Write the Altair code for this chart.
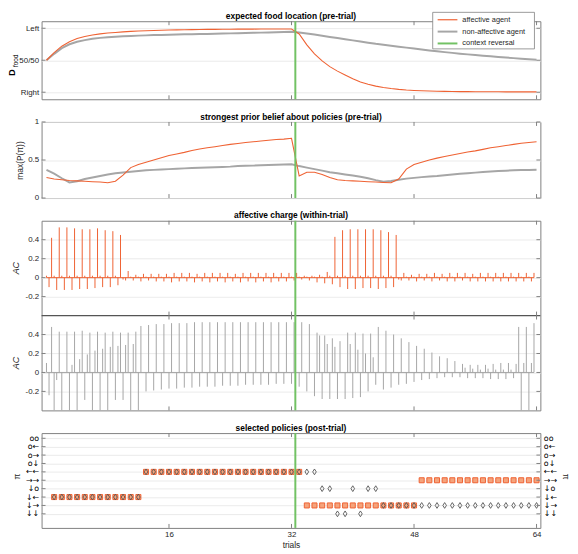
import altair as alt
import pandas as pd

# ---------------- values ----------------
pre_trial_index = list(range(65))

food_affective = [
    0.50, 0.62, 0.72, 0.79, 0.84, 0.87, 0.895, 0.912, 0.925, 0.935,
    0.944, 0.951, 0.957, 0.962, 0.966, 0.969, 0.972, 0.975, 0.977, 0.979,
    0.981, 0.982, 0.983, 0.984, 0.985, 0.986, 0.987, 0.987, 0.988, 0.988,
    0.989, 0.989, 0.989, 0.91, 0.74, 0.60, 0.49, 0.40, 0.33, 0.27,
    0.21, 0.16, 0.125, 0.095, 0.075, 0.058, 0.045, 0.035, 0.028, 0.022,
    0.018, 0.015, 0.013, 0.011, 0.010, 0.009, 0.008, 0.008, 0.007, 0.007,
    0.006, 0.006, 0.006, 0.005, 0.005]
food_nonaffective = [
    0.50, 0.60, 0.69, 0.75, 0.79, 0.815, 0.835, 0.85, 0.86, 0.868,
    0.875, 0.88, 0.885, 0.889, 0.893, 0.896, 0.899, 0.902, 0.905, 0.907,
    0.91, 0.912, 0.914, 0.917, 0.92, 0.923, 0.926, 0.929, 0.932, 0.935,
    0.938, 0.941, 0.945, 0.935, 0.918, 0.901, 0.883, 0.865, 0.847, 0.829,
    0.811, 0.793, 0.775, 0.757, 0.742, 0.727, 0.712, 0.697, 0.682, 0.668,
    0.654, 0.64, 0.627, 0.615, 0.603, 0.592, 0.581, 0.571, 0.561, 0.551,
    0.542, 0.533, 0.524, 0.515, 0.506]

prior_affective = [
    0.27, 0.25, 0.24, 0.23, 0.225, 0.22, 0.215, 0.21, 0.20, 0.22,
    0.30, 0.40, 0.44, 0.47, 0.50, 0.53, 0.56, 0.58, 0.60, 0.625,
    0.645, 0.66, 0.675, 0.69, 0.705, 0.718, 0.73, 0.74, 0.75, 0.76,
    0.77, 0.775, 0.785, 0.29, 0.34, 0.34, 0.31, 0.27, 0.24, 0.23,
    0.225, 0.22, 0.215, 0.21, 0.205, 0.20, 0.25, 0.38, 0.44, 0.47,
    0.50, 0.525, 0.545, 0.565, 0.585, 0.605, 0.62, 0.64, 0.66, 0.675,
    0.69, 0.705, 0.72, 0.73, 0.74]
prior_nonaffective = [
    0.37, 0.32, 0.26, 0.205, 0.22, 0.25, 0.27, 0.29, 0.31, 0.325,
    0.335, 0.345, 0.355, 0.365, 0.37, 0.375, 0.38, 0.385, 0.39, 0.394,
    0.398, 0.402, 0.405, 0.409, 0.413, 0.42, 0.423, 0.426, 0.43, 0.433,
    0.437, 0.44, 0.445, 0.42, 0.40, 0.38, 0.36, 0.34, 0.325, 0.31,
    0.295, 0.28, 0.26, 0.235, 0.215, 0.225, 0.24, 0.255, 0.265, 0.275,
    0.283, 0.29, 0.30, 0.31, 0.318, 0.326, 0.334, 0.341, 0.348, 0.354,
    0.36, 0.364, 0.368, 0.37, 0.372]

trial_numbers = list(range(1, 65))
# affective charge at the three within-trial steps of every trial
ac_aff_step1 = [
    0.02, 0.02, 0.02, 0.02, 0.02, 0.02, 0.02, 0.02, 0.02, 0.02,
    -0.02, 0.01, 0.01, 0.01, 0.01, 0.01, 0.01, 0.01, 0.01, 0.01,
    0.01, 0.01, 0.01, 0.01, 0.01, 0.01, 0.01, 0.01, 0.01, 0.01,
    0.01, 0.01, 0.01, 0.01, 0.01, 0.01, 0.01, 0.02, 0.02, 0.02,
    0.02, 0.02, 0.02, 0.02, 0.02, 0.02, -0.02, 0.01, 0.01, 0.01,
    0.01, 0.01, 0.01, 0.01, 0.01, 0.01, 0.01, 0.01, 0.01, 0.01,
    0.01, 0.01, 0.01, 0.01]
ac_aff_step2 = [
    -0.10, -0.13, -0.13, -0.13, -0.12, -0.12, -0.11, -0.10, -0.10, -0.08,
    -0.03, -0.03, -0.04, -0.03, -0.04, -0.04, -0.05, -0.04, -0.04, -0.05,
    -0.04, -0.05, -0.04, -0.05, -0.04, -0.05, -0.04, -0.05, -0.04, -0.05,
    -0.04, -0.04, -0.03, -0.02, -0.03, -0.05, -0.06, -0.07, -0.10, -0.12,
    -0.12, -0.11, -0.11, -0.12, -0.11, -0.10, -0.03, -0.03, -0.04, -0.03,
    -0.04, -0.03, -0.04, -0.04, -0.03, -0.04, -0.04, -0.04, -0.04, -0.04,
    -0.04, -0.04, -0.04, -0.04]
ac_aff_step3 = [
    0.42, 0.53, 0.53, 0.52, 0.51, 0.51, 0.52, 0.50, 0.49, 0.45,
    0.07, 0.03, 0.04, 0.04, 0.04, 0.04, 0.05, 0.05, 0.05, 0.04,
    0.05, 0.05, 0.05, 0.05, 0.04, 0.05, 0.05, 0.05, 0.05, 0.05,
    0.05, 0.05, 0.05, 0.02, 0.02, 0.03, 0.06, 0.43, 0.50, 0.51,
    0.51, 0.51, 0.51, 0.50, 0.48, 0.45, 0.05, 0.03, 0.04, 0.04,
    0.05, 0.04, 0.05, 0.05, 0.05, 0.04, 0.05, 0.05, 0.05, 0.05,
    0.05, 0.05, 0.05, 0.05]
ac_non_step1 = [
    0.10, -0.40, -0.40, -0.40, -0.40, -0.29, -0.40, -0.40, -0.40, -0.29,
    -0.29, -0.40, -0.40, -0.20, -0.19, -0.18, -0.17, -0.17, -0.16, -0.16,
    -0.15, -0.15, -0.15, -0.14, -0.14, -0.14, -0.13, -0.13, -0.13, -0.13,
    -0.12, -0.12, -0.12, -0.15, -0.20, -0.25, -0.28, -0.28, -0.28, -0.28,
    -0.27, -0.26, -0.20, -0.13, -0.18, -0.16, -0.13, -0.12, -0.10, -0.08,
    -0.07, -0.06, -0.05, -0.05, -0.05, -0.06, -0.06, -0.06, -0.07, -0.07,
    -0.07, -0.06, -0.40, -0.40]
ac_non_step2 = [
    -0.24, -0.08, 0.00, 0.08, 0.14, 0.19, 0.23, 0.25, 0.27, 0.28,
    0.29, 0.30, 0.49, 0.50, 0.51, 0.51, 0.52, 0.52, 0.52, 0.53,
    0.53, 0.53, 0.53, 0.53, 0.53, 0.53, 0.53, 0.53, 0.53, 0.53,
    0.53, 0.53, 0.53, 0.53, 0.51, 0.42, 0.39, 0.36, 0.33, 0.42,
    0.42, 0.41, 0.41, 0.48, 0.44, 0.40, 0.36, 0.32, 0.28, 0.25,
    0.21, 0.17, 0.15, 0.12, 0.09, 0.08, 0.08, 0.08, 0.09, 0.10,
    0.10, 0.09, 0.10, 0.10]
ac_non_step3 = [
    0.48, 0.43, 0.43, 0.43, 0.44, 0.42, 0.43, 0.42, 0.43, 0.42,
    0.42, 0.43, 0.0, 0.0, 0.0, 0.0, 0.0, 0.0, 0.0, 0.0,
    0.0, 0.0, 0.0, 0.0, 0.0, 0.0, 0.0, 0.0, 0.0, 0.0,
    0.0, 0.0, 0.0, 0.0, 0.0, 0.39, 0.30, 0.27, 0.0, 0.30,
    0.24, 0.20, 0.16, 0.0, 0.0, 0.0, 0.0, 0.0, 0.0, 0.0,
    0.0, 0.0, 0.0, 0.0, 0.05, 0.04, 0.03, 0.04, 0.03, 0.03,
    0.03, 0.48, 0.48, 0.52]

policy_labels = ["oo", "o←", "o→", "o↓", "←←", "→→", "↓o", "↓←", "↓→", "↓↓"]
policy_affective = ["↓←"] * 12 + ["←←"] * 21 + ["↓→"] * 15 + ["→→"] * 16
policy_nonaffective = (["↓←"] * 12 + ["←←"] * 23
                       + ["↓o", "↓o", "↓↓", "↓↓", "↓o", "↓↓", "↓o", "↓o"]
                       + ["↓→"] * 21)

reversal_x = [32.5]
x_ticks = [16, 32, 48, 64]
legend_labels = ["affective agent", "non-affective agent", "context reversal"]
panel_titles = ["expected food location (pre-trial)",
                "strongest prior belief about policies (pre-trial)",
                "affective charge (within-trial)",
                "selected policies (post-trial)"]

# ---------------- style ----------------
FONT = "Liberation Sans"
ARROW_FONT = "DejaVu Sans"
ORANGE = "#ef6233"
GRAY = "#a6a6a6"
GREEN = "#72c264"
FRAME = "#808080"
TEXT = "#262626"
SQ_FILL = "#f5a47c"
DIAMOND = "#555555"
W = 505
H1, H2, H34, H5 = 79, 77, 192, 96

xscale = alt.Scale(domain=[-0.64, 64.5], nice=False, zero=False)


def xq(field="x", axis=None):
    return alt.X(f"{field}:Q", scale=xscale, axis=axis)


xt_df = pd.DataFrame({"x": x_ticks})
one = pd.DataFrame({"k": [0]})


def xticks(height, mid=None):
    spans = [(0, 4), (height - 4, height)]
    if mid is not None:
        spans.append((mid - 4, mid + 4))
    return [alt.Chart(xt_df).mark_rule(color=FRAME, strokeWidth=1).encode(
        x=xq(), y=alt.value(a), y2=alt.value(b)) for a, b in spans]


def yticks(df, yenc):
    return [alt.Chart(df).mark_rule(color=FRAME, strokeWidth=1).encode(
        y=yenc, x=alt.value(a), x2=alt.value(b)) for a, b in [(0, 4), (W - 4, W)]]


def green():
    return alt.Chart(pd.DataFrame({"x": reversal_x})).mark_rule(
        color=GREEN, strokeWidth=2).encode(x=xq())


def title(text):
    return alt.Chart(one).mark_text(text=text, fontSize=8.5, fontWeight="bold", font=FONT, color="#000",
                                    align="center", baseline="middle").encode(
        x=alt.value(W / 2), y=alt.value(-5.5))


# ---------------- panel 1 ----------------
y1 = alt.Scale(domain=[-0.11, 1.11], nice=False, zero=False)
ax1 = alt.Axis(values=[0, 0.5, 1], grid=True, title=None,
               labelExpr="datum.value == 1 ? 'Left' : (datum.value == 0 ? 'Right' : '50/50')")
food_df = pd.DataFrame({"x": pre_trial_index, "aff": food_affective, "non": food_nonaffective})
p1_layers = [
    alt.Chart(food_df).mark_line(color=GRAY, strokeWidth=2).encode(x=xq(), y=alt.Y("non:Q", scale=y1, axis=ax1)),
    alt.Chart(food_df).mark_line(color=ORANGE, strokeWidth=1.1).encode(x=xq(), y=alt.Y("aff:Q", scale=y1, axis=None)),
    green(),
]
p1_layers += xticks(H1)
p1_layers += yticks(pd.DataFrame({"y": [0, 0.5, 1]}), alt.Y("y:Q", scale=y1, axis=None))
p1_layers.append(alt.Chart(one).mark_rect(fill="white", stroke=FRAME, strokeWidth=0.8).encode(
    x=alt.value(396), x2=alt.value(499), y=alt.value(-9), y2=alt.value(28)))
for i, (lab, col, sw) in enumerate(zip(legend_labels, [ORANGE, GRAY, GREEN], [1.2, 2, 2])):
    yy = -1.5 + 12 * i
    p1_layers.append(alt.Chart(one).mark_rule(color=col, strokeWidth=sw).encode(
        x=alt.value(401), x2=alt.value(421), y=alt.value(yy)))
    p1_layers.append(alt.Chart(one).mark_text(text=lab, align="left", baseline="middle", fontSize=7.5,
                                              font=FONT, color=TEXT).encode(x=alt.value(426), y=alt.value(yy)))
p1_layers.append(alt.Chart(one).mark_text(text="D", angle=270, fontSize=9, fontWeight="bold", font=FONT,
                                          color="#000", align="center", baseline="middle").encode(
    x=alt.value(-29.5), y=alt.value(52)))
p1_layers.append(alt.Chart(one).mark_text(text="food", angle=270, fontSize=6.5, font=FONT,
                                          color="#000", align="center", baseline="middle").encode(
    x=alt.value(-25.5), y=alt.value(40)))
p1_layers.append(title(panel_titles[0]))
p1 = alt.layer(*p1_layers).resolve_axis(x="independent", y="independent").properties(width=W, height=H1)

# ---------------- panel 2 ----------------
y2 = alt.Scale(domain=[0, 1], nice=False, zero=False)
ax2 = alt.Axis(values=[0, 0.5, 1], grid=True, title="max(P(π))", labelExpr="'' + datum.value", titlePadding=3)
prior_df = pd.DataFrame({"x": pre_trial_index, "aff": prior_affective, "non": prior_nonaffective})
p2_layers = [
    alt.Chart(prior_df).mark_line(color=GRAY, strokeWidth=2).encode(x=xq(), y=alt.Y("non:Q", scale=y2, axis=ax2)),
    alt.Chart(prior_df).mark_line(color=ORANGE, strokeWidth=1.1).encode(x=xq(), y=alt.Y("aff:Q", scale=y2, axis=None)),
    green(),
]
p2_layers += xticks(H2)
p2_layers += yticks(pd.DataFrame({"y": [0, 0.5, 1]}), alt.Y("y:Q", scale=y2, axis=None))
p2_layers.append(title(panel_titles[1]))
p2 = alt.layer(*p2_layers).resolve_axis(x="independent", y="independent").properties(width=W, height=H2)

# ---------------- panels 3+4 (shared frame) ----------------
def spikes(s1, s2, s3, base):
    rows = []
    for i, t in enumerate(trial_numbers):
        for k, v in enumerate((s1[i], s2[i], s3[i])):
            rows.append({"x": t - 1 + k / 3.0, "base": base, "y": base + v})
    return pd.DataFrame(rows)


aff_sp = spikes(ac_aff_step1, ac_aff_step2, ac_aff_step3, 1.0)
non_sp = spikes(ac_non_step1, ac_non_step2, ac_non_step3, 0.0)
y34 = alt.Scale(domain=[-0.4, 1.6], nice=False, zero=False)
v = "(datum.value > 0.6 ? datum.value - 1 : datum.value)"
ax34 = alt.Axis(values=[-0.2, 0, 0.2, 0.4, 0.8, 1.0, 1.2, 1.4], grid=True, title=None,
                labelExpr=f"abs({v}) < 0.001 ? '0' : replace(format({v}, '.1f'), '−', '-')")


def baseline(df, color):
    b = pd.DataFrame({"x": [df["x"].min()], "x2": [df["x"].max()], "y": [df["base"].iloc[0]]})
    return alt.Chart(b).mark_rule(color=color, strokeWidth=1).encode(
        x=xq(), x2="x2:Q", y=alt.Y("y:Q", scale=y34, axis=None))


p34_layers = [
    baseline(non_sp, GRAY),
    alt.Chart(non_sp).mark_rule(color=GRAY, strokeWidth=1, clip=True).encode(
        x=xq(), y=alt.Y("y:Q", scale=y34, axis=None), y2=alt.Y2("base")),
    baseline(aff_sp, ORANGE),
    alt.Chart(aff_sp).mark_rule(color=ORANGE, strokeWidth=1, clip=True).encode(
        x=xq(), y=alt.Y("y:Q", scale=y34, axis=ax34), y2=alt.Y2("base")),
    alt.Chart(pd.DataFrame({"y": [0.6]})).mark_rule(color="#555555", strokeWidth=1.3).encode(
        y=alt.Y("y:Q", scale=y34, axis=None)),
    green(),
]
p34_layers += xticks(H34, mid=H34 / 2)
p34_layers += yticks(pd.DataFrame({"y": [-0.2, 0, 0.2, 0.4, 0.8, 1.0, 1.2, 1.4]}),
                     alt.Y("y:Q", scale=y34, axis=None))
p34_layers.append(alt.Chart(pd.DataFrame({"y": [1.1, 0.1], "t": ["AC", "AC"]})).mark_text(
    angle=270, fontSize=9, fontStyle="italic", font=FONT, color=TEXT, align="center", baseline="middle").encode(
    x=alt.value(-26), y=alt.Y("y:Q", scale=y34, axis=None), text="t:N"))
p34_layers.append(title(panel_titles[2]))
p34 = alt.layer(*p34_layers).resolve_axis(x="independent", y="independent").properties(width=W, height=H34)

# ---------------- panel 5 ----------------
ysc5 = alt.Scale(type="point", domain=policy_labels, range=[1, 86])
pol_aff_df = pd.DataFrame({"x": trial_numbers, "policy": policy_affective})
pol_non_df = pd.DataFrame({"x": trial_numbers, "policy": policy_nonaffective})
xax5 = alt.Axis(values=x_ticks, title="trials", grid=False, labelPadding=3, titlePadding=2, format="d")
p5_layers = [
    alt.Chart(pol_aff_df).mark_square(size=26, fill=SQ_FILL, stroke=ORANGE, strokeWidth=1, opacity=1).encode(
        x=xq(axis=xax5),
        y=alt.Y("policy:N", scale=ysc5, axis=alt.Axis(orient="left", grid=True, title="π", titlePadding=4,
                                                      labelFont=ARROW_FONT, labelFontSize=8,
                                                      labelColor="#000"))),
    alt.Chart(pol_non_df).mark_point(shape="M0,-1L0.62,0L0,1L-0.62,0Z", size=34, filled=False,
                                     color=DIAMOND, strokeWidth=0.9, opacity=1).encode(
        x=xq(),
        y=alt.Y("policy:N", scale=ysc5, axis=alt.Axis(orient="right", grid=False, title="π", titlePadding=4,
                                                      labelFont=ARROW_FONT, labelFontSize=8,
                                                      labelColor="#000"))),
    green(),
]
p5_layers += xticks(H5)
p5_layers += yticks(pd.DataFrame({"policy": policy_labels}), alt.Y("policy:N", scale=ysc5, axis=None))
p5_layers.append(title(panel_titles[3]))
p5 = alt.layer(*p5_layers).resolve_axis(x="independent", y="independent").properties(width=W, height=H5)

chart = alt.vconcat(p1, p2, p34, p5, spacing=23, bounds="flush").properties(padding=0).configure_view(
    stroke=FRAME, strokeWidth=1
).configure_axis(
    labelFont=FONT, titleFont=FONT, labelFontSize=8, titleFontSize=8.5, labelColor=TEXT, titleColor=TEXT,
    titleFontWeight="normal", gridColor="#e6e6e6", gridWidth=0.8, domain=False, ticks=False, labelPadding=3
)

chart.save("out.html", embed_options={"renderer": "svg", "actions": False})
